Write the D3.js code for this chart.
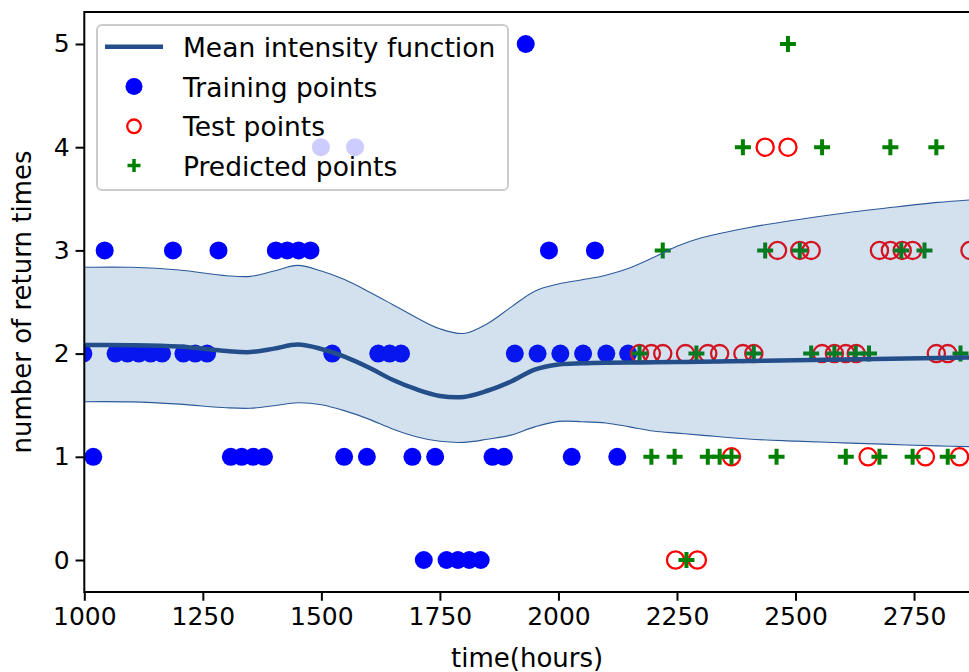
<html>
<head>
  <style>
    body { margin: 0; background: #fff; }
  </style>
</head>

<body>

	<script src="https://d3js.org/d3.v7.min.js"></script>

	<script>
		//training points: time in hours, number of return times
		var trainTime = [998,1019,1043,1066,1091,1115,1140,1164,1187,1209,1234,1259,1283,1309,1332,1356,1379,1404,1428,1452,1477,1499,1523,1548,1571,1596,1620,1644,1668,1692,1716,1740,1764,1788,1812,1836,1861,1885,1908,1931,1956,1980,2004,2028,2052,2077,2101,2124,2147];
		var trainCount = [2,1,3,2,2,2,2,2,3,2,2,2,3,1,1,1,1,3,3,3,3,4,2,1,4,1,2,2,2,1,0,1,0,0,0,0,1,1,2,5,2,3,2,1,2,3,2,1,2];

		//test points
		var testTime = [2171,2196,2220,2247,2268,2293,2315,2340,2365,2389,2412,2436,2462,2484,2509,2533,2556,2582,2606,2628,2653,2677,2700,2725,2747,2774,2797,2821,2846,2868];
		var testCount = [2,2,2,0,2,0,2,2,1,2,2,4,3,4,3,3,2,2,2,2,1,3,3,3,3,1,2,2,1,3];

		//predicted points
		var predTime = [2171,2196,2220,2245,2270,2291,2315,2340,2365,2389,2412,2436,2460,2484,2509,2533,2556,2582,2606,2627,2655,2677,2700,2723,2747,2772,2797,2821,2848];
		var predCount = [2,1,3,1,0,2,1,1,1,4,2,3,1,5,3,2,4,2,1,2,2,1,4,3,1,3,4,1,2];

		//mean intensity function and its band
		var curveTime = [1000,1100,1200,1300,1350,1400,1450,1500,1550,1600,1650,1700,1750,1800,1850,1900,1950,2000,2050,2100,2150,2200,2250,2300,2400,2500,2600,2700,2800,2870];
		var meanValue = [2.083,2.082,2.068,2.025,2.015,2.048,2.088,2.045,1.968,1.865,1.747,1.655,1.59,1.58,1.64,1.73,1.845,1.895,1.906,1.911,1.913,1.915,1.918,1.921,1.928,1.936,1.944,1.951,1.958,1.962];
		var upperValue = [2.836,2.836,2.81,2.755,2.748,2.80,2.855,2.80,2.715,2.60,2.476,2.35,2.24,2.195,2.29,2.45,2.605,2.675,2.715,2.76,2.83,2.93,3.04,3.12,3.22,3.295,3.36,3.415,3.465,3.49];
		var lowerValue = [1.534,1.532,1.51,1.475,1.47,1.495,1.524,1.505,1.445,1.365,1.27,1.195,1.15,1.14,1.17,1.21,1.29,1.343,1.34,1.328,1.29,1.25,1.229,1.21,1.172,1.152,1.135,1.12,1.106,1.098];

		//ticks
		var xTicks = [1000,1250,1500,1750,2000,2250,2500,2750];
		var yTicks = [0,1,2,3,4,5];

		var width = 969;
		var height = 672;

		//plot area edges (right edge sits at the border of the picture)
		var plotLeft = 84.3, plotRight = 970, plotTop = 12, plotBottom = 592;

		var font = 'DejaVu Sans';

		var svg = d3.select('body')
						.append('svg')
						.attr('width', width)
						.attr('height', height)
						;

		var x = d3.scaleLinear().domain([1000, 2868]).range([plotLeft, plotRight]);
		var y = d3.scaleLinear().domain([-0.31, 5.31]).range([plotBottom, plotTop]);

		//clip everything to the axes
		svg.append('clipPath')
			.attr('id', 'plotclip')
			.append('rect')
			.attr('x', plotLeft)
			.attr('y', plotTop)
			.attr('width', plotRight - plotLeft)
			.attr('height', plotBottom - plotTop)
			;

		var plot = svg.append('g').attr('clip-path', 'url(#plotclip)');

		//training points
		plot.selectAll('.train')
			.data(trainTime)
			.enter()
			.append('circle')
			.attr('cx', function(d){ return x(d); })
			.attr('cy', function(d, i){ return y(trainCount[i]); })
			.attr('r', 9)
			.attr('fill', '#0000ff')
			;

		//test points
		plot.selectAll('.test')
			.data(testTime)
			.enter()
			.append('circle')
			.attr('cx', function(d){ return x(d); })
			.attr('cy', function(d, i){ return y(testCount[i]); })
			.attr('r', 8.6)
			.attr('fill', 'none')
			.attr('stroke', '#ff0000')
			.attr('stroke-width', 2.3)
			;

		//predicted points, drawn as plus signs
		plot.selectAll('.pred')
			.data(predTime)
			.enter()
			.append('path')
			.attr('d', 'M-8,0H8M0,-8V8')
			.attr('transform', function(d, i){ return 'translate(' + x(d) + ',' + y(predCount[i]) + ')'; })
			.attr('stroke', '#008000')
			.attr('stroke-width', 4)
			;

		//smooth curve through the read values
		var smooth = d3.curveCatmullRom.alpha(0.5);

		//band drawn over the points, semi transparent
		var band = d3.area()
			.x(function(d){ return x(d); })
			.y0(function(d, i){ return y(lowerValue[i]); })
			.y1(function(d, i){ return y(upperValue[i]); })
			.curve(smooth);

		plot.append('path')
			.attr('d', band(curveTime))
			.attr('fill', 'rgb(35,105,175)')
			.attr('fill-opacity', 0.2)
			;

		var edge = function(values){
			return d3.line()
				.x(function(d){ return x(d); })
				.y(function(d, i){ return y(values[i]); })
				.curve(smooth)(curveTime);
		};

		plot.append('path').attr('d', edge(upperValue)).attr('fill', 'none').attr('stroke', '#2c5a98').attr('stroke-width', 1.1);
		plot.append('path').attr('d', edge(lowerValue)).attr('fill', 'none').attr('stroke', '#2c5a98').attr('stroke-width', 1.1);
		plot.append('path').attr('d', edge(meanValue)).attr('fill', 'none').attr('stroke', '#234e8a').attr('stroke-width', 4.5);

		//axes
		var xAxis = svg.append('g')
			.attr('transform', 'translate(0,' + plotBottom + ')')
			.call(d3.axisBottom(x).tickValues(xTicks).tickFormat(d3.format('d')).tickSize(8.75).tickPadding(6));

		var yAxis = svg.append('g')
			.attr('transform', 'translate(' + plotLeft + ',0)')
			.call(d3.axisLeft(y).tickValues(yTicks).tickFormat(d3.format('d')).tickSize(8.75).tickPadding(6));

		svg.selectAll('.domain').remove();
		svg.selectAll('.tick line').attr('stroke', '#000').attr('stroke-width', 2);
		svg.selectAll('.tick text')
			.attr('fill', '#000')
			.attr('font-family', font)
			.style('font-size', '25px')
			;

		//frame
		svg.append('rect')
			.attr('x', plotLeft)
			.attr('y', plotTop)
			.attr('width', plotRight - plotLeft)
			.attr('height', plotBottom - plotTop)
			.attr('fill', 'none')
			.attr('stroke', '#000')
			.attr('stroke-width', 2)
			;

		//axis labels
		svg.append('text')
			.attr('x', (plotLeft + plotRight) / 2)
			.attr('y', 667)
			.attr('text-anchor', 'middle')
			.attr('font-family', font)
			.style('font-size', '26px')
			.text('time(hours)')
			;

		svg.append('text')
			.attr('transform', 'translate(31,' + (plotTop + plotBottom) / 2 + ') rotate(-90)')
			.attr('text-anchor', 'middle')
			.attr('font-family', font)
			.style('font-size', '26px')
			.text('number of return times')
			;

		//legend
		var legend = svg.append('g');

		legend.append('rect')
			.attr('x', 97)
			.attr('y', 25)
			.attr('width', 411)
			.attr('height', 165)
			.attr('rx', 5)
			.attr('fill', '#fff')
			.attr('fill-opacity', 0.8)
			.attr('stroke', '#cccccc')
			.attr('stroke-width', 2)
			;

		var legendRows = [46.7, 86.5, 126.3, 165.5];
		var legendLabels = ['Mean intensity function', 'Training points', 'Test points', 'Predicted points'];

		legend.append('line')
			.attr('x1', 105).attr('x2', 163)
			.attr('y1', legendRows[0]).attr('y2', legendRows[0])
			.attr('stroke', '#234e8a')
			.attr('stroke-width', 4.5)
			;

		legend.append('circle')
			.attr('cx', 134).attr('cy', legendRows[1])
			.attr('r', 8.5)
			.attr('fill', '#0000ff')
			;

		legend.append('circle')
			.attr('cx', 134).attr('cy', legendRows[2])
			.attr('r', 6.8)
			.attr('fill', 'none')
			.attr('stroke', '#ff0000')
			.attr('stroke-width', 2.3)
			;

		legend.append('path')
			.attr('d', 'M-6.5,0H6.5M0,-6.5V6.5')
			.attr('transform', 'translate(134,' + legendRows[3] + ')')
			.attr('stroke', '#008000')
			.attr('stroke-width', 3.5)
			;

		legend.selectAll('.label')
			.data(legendLabels)
			.enter()
			.append('text')
			.attr('x', 183)
			.attr('y', function(d, i){ return legendRows[i] + 10; })
			.attr('font-family', font)
			.style('font-size', '26.5px')
			.text(function(d){ return d; })
			;

	</script>

</body>
</html>
